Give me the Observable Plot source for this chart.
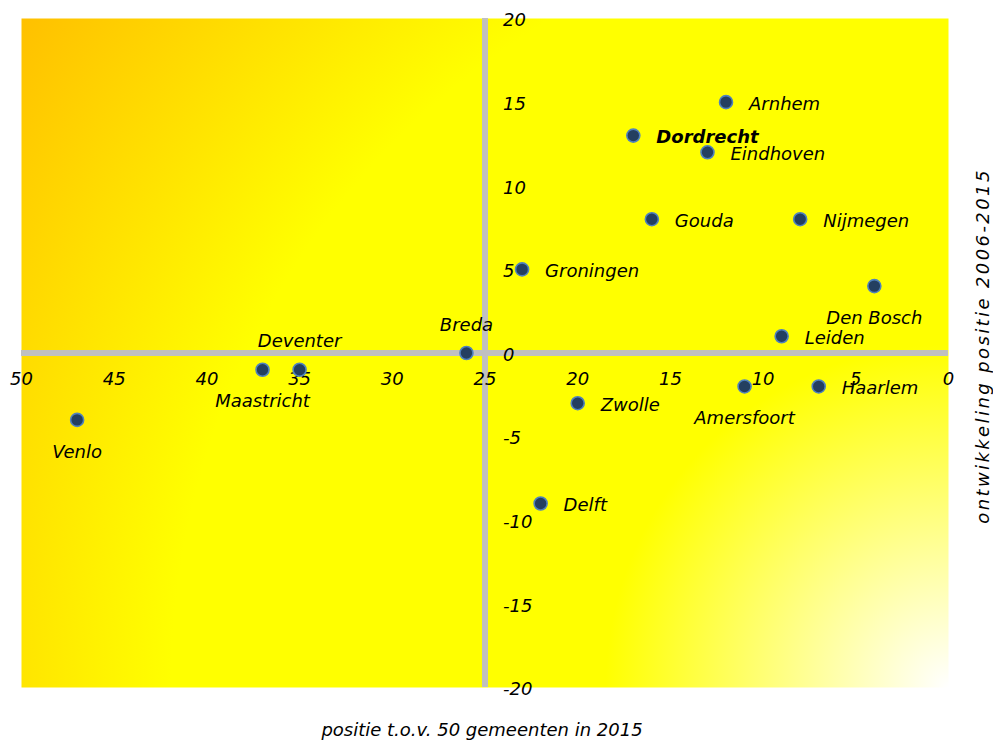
<!DOCTYPE html>
<html>
<head>
<meta charset="utf-8">
<script src="https://cdn.jsdelivr.net/npm/d3@7"></script>
<script src="https://cdn.jsdelivr.net/npm/@observablehq/plot@0.6"></script>
<style>
  html, body { margin: 0; padding: 0; background: #ffffff; }
  #chart svg { display: block; font-family: "DejaVu Sans", Verdana, sans-serif; }
</style>
</head>
<body>
<div id="chart"></div>
<script>
// ---- data ----
const cities = ["Arnhem", "Dordrecht", "Eindhoven", "Gouda", "Nijmegen", "Groningen", "Den Bosch", "Leiden",
  "Breda", "Deventer", "Maastricht", "Venlo", "Zwolle", "Amersfoort", "Haarlem", "Delft"];
const positie2015 = [12, 17, 13, 16, 8, 23, 4, 9, 26, 35, 37, 47, 20, 11, 7, 22];
const ontwikkeling = [15, 13, 12, 8, 8, 5, 4, 1, 0, -1, -1, -4, -3, -2, -2, -9];
const xTicks = [50, 45, 40, 35, 30, 25, 20, 15, 10, 5, 0];
const yTicks = [20, 15, 10, 5, 0, -5, -10, -15, -20];
const labelsAbove = ["Breda", "Deventer"];
const labelsBelow = ["Den Bosch", "Maastricht", "Venlo", "Amersfoort"];
const highlighted = ["Dordrecht"];
const xTitle = "positie t.o.v. 50 gemeenten in 2015";
const yTitle = "ontwikkeling positie 2006-2015";

const data = cities.map((c, i) => ({city: c, x: positie2015[i], y: ontwikkeling[i]}));
const rightLabels = data.filter(d => !labelsAbove.includes(d.city) && !labelsBelow.includes(d.city));
const rightPlain = rightLabels.filter(d => !highlighted.includes(d.city));
const rightBold = rightLabels.filter(d => highlighted.includes(d.city));

const font = {fontFamily: "DejaVu Sans, Verdana, sans-serif", fontSize: 18, fontStyle: "italic", fill: "#000"};

const chart = Plot.plot({
  width: 993,
  height: 744,
  marginTop: 18,
  marginRight: 45,
  marginBottom: 57,
  marginLeft: 21,
  x: {domain: [50, 0], axis: null},
  y: {domain: [-20, 20], axis: null},
  marks: [
    Plot.frame({fill: "url(#bgGrad)"}),
    Plot.ruleY([0], {stroke: "#c0c0c0", strokeWidth: 6}),
    Plot.ruleX([25], {stroke: "#c0c0c0", strokeWidth: 6}),
    Plot.text(xTicks, {x: d => d, y: () => 0, text: d => String(d), dy: 26, textAnchor: "middle", ...font}),
    Plot.text(yTicks, {x: () => 25, y: d => d, text: d => String(d), dx: 18, dy: 2, textAnchor: "start", ...font}),
    Plot.dot(data, {x: "x", y: "y", r: 6.5, fill: "#243f60", stroke: "#4f81bd", strokeWidth: 1.6}),
    Plot.text(rightPlain, {x: "x", y: "y", text: "city", dx: 23, dy: 2, textAnchor: "start", ...font}),
    Plot.text(rightBold, {x: "x", y: "y", text: "city", dx: 23, dy: 2, textAnchor: "start", ...font, fontWeight: "bold"}),
    Plot.text(data.filter(d => labelsAbove.includes(d.city)), {x: "x", y: "y", text: "city", dy: -28, textAnchor: "middle", ...font}),
    Plot.text(data.filter(d => labelsBelow.includes(d.city)), {x: "x", y: "y", text: "city", dy: 32, textAnchor: "middle", ...font}),
    Plot.text([xTitle], {frameAnchor: "bottom", dy: 48, dx: -3, textAnchor: "middle", ...font}),
    Plot.text([yTitle], {frameAnchor: "right", dx: 35, dy: -7, rotate: -90, textAnchor: "middle", ...font, className: "ytitle"})
  ]
});

// gradient background definition
const ns = "http://www.w3.org/2000/svg";
const defs = document.createElementNS(ns, "defs");
const grad = document.createElementNS(ns, "radialGradient");
grad.setAttribute("id", "bgGrad");
grad.setAttribute("gradientUnits", "userSpaceOnUse");
grad.setAttribute("cx", 948);
grad.setAttribute("cy", 687);
grad.setAttribute("r", 1143);
[[0, "#ffffff"], [0.3, "#ffff00"], [0.68, "#ffff00"], [1, "#ffc000"]].forEach(([o, c]) => {
  const s = document.createElementNS(ns, "stop");
  s.setAttribute("offset", o);
  s.setAttribute("stop-color", c);
  grad.appendChild(s);
});
defs.appendChild(grad);
chart.insertBefore(defs, chart.firstChild);
d3.select(chart).selectAll(".ytitle text").style("letter-spacing", "2.4px");

document.getElementById("chart").appendChild(chart);
</script>
</body>
</html>
